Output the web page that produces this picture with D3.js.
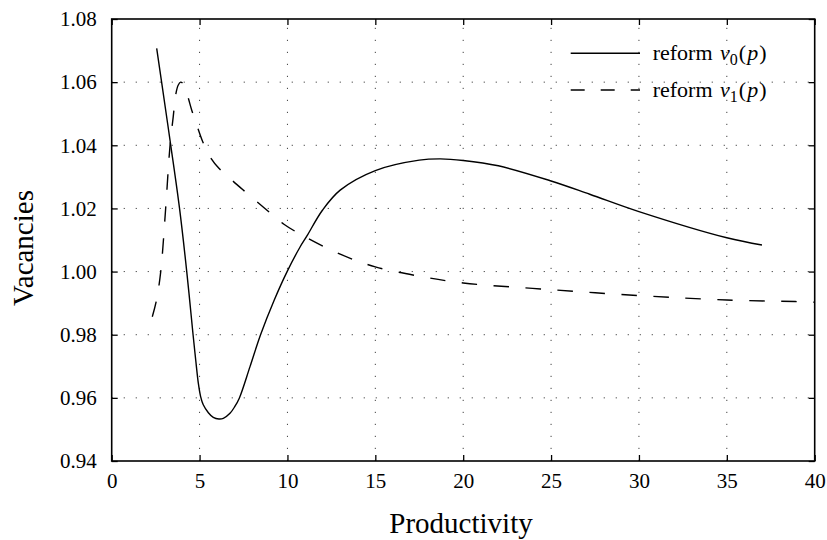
<!DOCTYPE html>
<html>
<head>
<meta charset="utf-8">
<script src="https://cdn.jsdelivr.net/npm/d3@7"></script>
<style>
  html, body { margin: 0; padding: 0; background: #fff; }
  svg text { font-family: "Liberation Serif", "DejaVu Serif", serif; fill: #000; }
</style>
</head>
<body>
<svg id="chart" width="827" height="540"></svg>
<script>
// ---- data ----
const xTicks = [0, 5, 10, 15, 20, 25, 30, 35, 40];
const yTicks = [0.94, 0.96, 0.98, 1.00, 1.02, 1.04, 1.06, 1.08];

const p0 = [2.56, 2.84, 3.36, 3.86, 4.27, 4.63, 4.78, 4.93, 5.06, 5.21, 5.5, 5.78, 6.1, 6.35, 6.73, 7.0, 7.26, 7.87, 8.47, 9.25, 9.98, 10.71, 11.1, 12.0, 13.0, 15.0, 17.5, 18.7, 20.0, 22.0, 25.0, 27.2, 30.0, 35.0, 37.0];
const v0 = [1.0707, 1.06, 1.04, 1.02, 1.00, 0.98, 0.972, 0.9646, 0.9604, 0.9578, 0.9553, 0.9538, 0.9533, 0.9535, 0.9551, 0.9572, 0.9599, 0.9699, 0.98, 0.991, 1.0, 1.0077, 1.0112, 1.0195, 1.0258, 1.032, 1.0353, 1.0357, 1.0352, 1.0335, 1.0287, 1.0245, 1.0190, 1.0107, 1.0084];

const p1 = [2.31, 2.55, 2.79, 3.07, 3.32, 3.5, 3.64, 3.78, 3.92, 4.1, 4.36, 4.55, 4.87, 5.18, 5.59, 6.1, 6.83, 7.49, 8.82, 9.8, 11.1, 13.0, 15.0, 17.55, 20.0, 24.4, 30.0, 35.0, 38.9, 40.0];
const v1 = [0.9857, 0.991, 1.00, 1.02, 1.04, 1.049, 1.0559, 1.0590, 1.060, 1.0593, 1.0549, 1.0512, 1.0459, 1.0411, 1.0364, 1.0327, 1.029, 1.0258, 1.0195, 1.015, 1.0107, 1.0055, 1.0015, 0.9985, 0.9964, 0.9945, 0.9924, 0.9910, 0.9905, 0.9903];

const seriesNames = ["reform", "reform"];
const xLabel = "Productivity";
const yLabel = "Vacancies";

// ---- layout ----
const svg = d3.select("#chart");
const L = 111.7, R = 814.7, T = 19, B = 461;
const x = d3.scaleLinear().domain([0, 40]).range([L, R]);
const y = d3.scaleLinear().domain([0.94, 1.08]).range([B, T]);

// grid
const grid = svg.append("g").attr("stroke", "#444").attr("stroke-width", 1)
  .attr("stroke-dasharray", "1.2,10.8");
xTicks.filter(t => t > 0 && t < 40).forEach(t => {
  grid.append("line").attr("x1", x(t)).attr("x2", x(t)).attr("y1", B).attr("y2", T);
});
yTicks.filter(t => t > 0.94 && t < 1.08).forEach(t => {
  grid.append("line").attr("x1", L).attr("x2", R).attr("y1", y(t)).attr("y2", y(t));
});

// axes
function styleAxis(g) {
  g.select(".domain").remove();
  g.selectAll(".tick line").attr("stroke", "#000").attr("stroke-width", 1.3);
  g.selectAll(".tick text").style("font-size", "21px").style("font-family", '"Liberation Serif", serif');
}
svg.append("g").attr("transform", `translate(0,${B})`)
  .call(d3.axisBottom(x).tickValues(xTicks).tickFormat(d3.format("d")).tickSizeInner(-6).tickSizeOuter(0).tickPadding(12))
  .call(styleAxis);
svg.append("g").attr("transform", `translate(0,${T})`)
  .call(d3.axisTop(x).tickValues(xTicks).tickFormat("").tickSizeInner(-6).tickSizeOuter(0))
  .call(styleAxis);
svg.append("g").attr("transform", `translate(${L},0)`)
  .call(d3.axisLeft(y).tickValues(yTicks).tickFormat(d3.format(".2f")).tickSizeInner(-6).tickSizeOuter(0).tickPadding(15))
  .call(styleAxis);
svg.append("g").attr("transform", `translate(${R},0)`)
  .call(d3.axisRight(y).tickValues(yTicks).tickFormat("").tickSizeInner(-6).tickSizeOuter(0))
  .call(styleAxis);

svg.append("rect").attr("x", L).attr("y", T).attr("width", R - L).attr("height", B - T)
  .attr("fill", "none").attr("stroke", "#000").attr("stroke-width", 1.6);

// lines
const line = d3.line().x(d => x(d[0])).y(d => y(d[1])).curve(d3.curveCatmullRom.alpha(0.5));
const d0 = p0.map((p, i) => [p, v0[i]]);
const d1 = p1.map((p, i) => [p, v1[i]]);
svg.append("path").datum(d0).attr("d", line).attr("fill", "none").attr("stroke", "#000").attr("stroke-width", 1.4);
svg.append("path").datum(d1).attr("d", line).attr("fill", "none").attr("stroke", "#000").attr("stroke-width", 1.4)
  .attr("stroke-dasharray", "15.5,16.5");

// legend
const leg = [
  { y: 53.3, dash: null, sub: "0", name: seriesNames[0] },
  { y: 90, dash: "14,16", sub: "1", name: seriesNames[1] }
];
leg.forEach(l => {
  const ln = svg.append("line").attr("x1", 570.7).attr("x2", 640).attr("y1", l.y).attr("y2", l.y)
    .attr("stroke", "#000").attr("stroke-width", 1.4);
  if (l.dash) ln.attr("stroke-dasharray", l.dash);
  const t = svg.append("text").attr("x", 652.7).attr("y", l.y + 7).style("font-size", "22px");
  t.append("tspan").text(l.name + " ");
  t.append("tspan").style("font-style", "italic").attr("dx", 2).text("v");
  t.append("tspan").attr("dy", 5).style("font-size", "16px").text(l.sub);
  t.append("tspan").attr("dy", -5).attr("dx", 1).text("(");
  t.append("tspan").style("font-style", "italic").attr("dx", 1).text("p");
  t.append("tspan").attr("dx", 1).text(")");
});

// axis titles
svg.append("text").attr("x", 461).attr("y", 533).attr("text-anchor", "middle")
  .style("font-size", "29px").text(xLabel);
svg.append("text").attr("transform", "translate(33,248) rotate(-90)").attr("text-anchor", "middle")
  .style("font-size", "29px").text(yLabel);
</script>
</body>
</html>
